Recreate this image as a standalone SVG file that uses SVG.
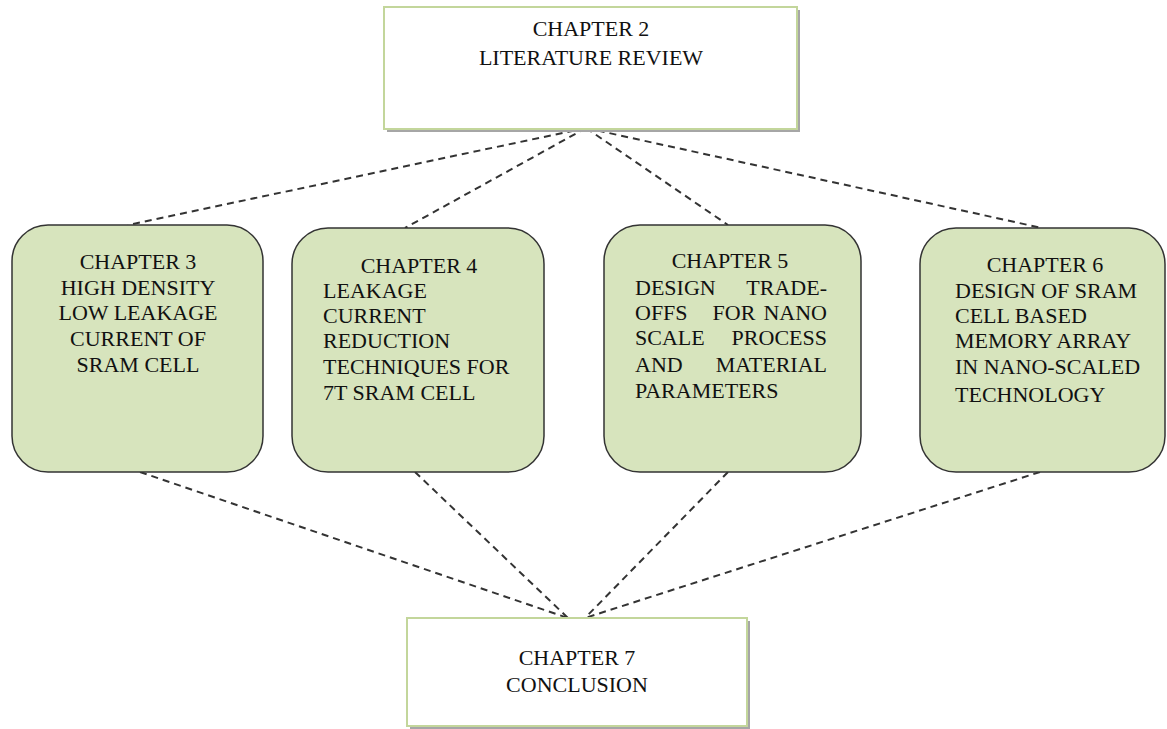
<svg xmlns="http://www.w3.org/2000/svg" width="1167" height="729" viewBox="0 0 1167 729">
<style>
.t{font-family:"Liberation Serif","Times New Roman",serif;font-size:22px;fill:#111}
.c{text-anchor:middle}
.e{text-anchor:end}
.rect{fill:#fff;stroke:#c3d69b;stroke-width:2}
.sh{fill:#a6a6a6}
.rr{fill:#d7e4bd;stroke:#333;stroke-width:1.5}
.con{fill:none;stroke:#333;stroke-width:2;stroke-dasharray:7 5}
</style>
<rect width="1167" height="729" fill="#fff"/>
<g id="connectors">
<line class="con" x1="586" y1="128" x2="128" y2="225"/>
<line class="con" x1="586" y1="128" x2="405" y2="228"/>
<line class="con" x1="586" y1="128" x2="728" y2="225"/>
<line class="con" x1="586" y1="128" x2="1042" y2="228"/>
<line class="con" x1="140" y1="472" x2="568" y2="618"/>
<line class="con" x1="415" y1="472" x2="568" y2="618"/>
<line class="con" x1="728" y1="472" x2="585" y2="618"/>
<line class="con" x1="1040" y1="472" x2="585" y2="618"/>
</g>
<g id="ch2">
<rect class="sh" x="387" y="10" width="413" height="122"/>
<rect class="rect" x="384" y="7" width="413" height="122"/>
<text class="t c" x="591" y="36">CHAPTER 2</text>
<text class="t c" x="591" y="65">LITERATURE REVIEW</text>
</g>
<g id="ch3">
<rect class="rr" x="12" y="225" width="251" height="247" rx="36"/>
<text class="t c" x="138" y="269">CHAPTER 3</text>
<text class="t c" x="138" y="295">HIGH DENSITY</text>
<text class="t c" x="138" y="320">LOW LEAKAGE</text>
<text class="t c" x="138" y="346">CURRENT OF</text>
<text class="t c" x="138" y="372">SRAM CELL</text>
</g>
<g id="ch4">
<rect class="rr" x="292" y="228" width="252" height="244" rx="36"/>
<text class="t c" x="419" y="273">CHAPTER 4</text>
<text class="t" x="323" y="298">LEAKAGE</text>
<text class="t" x="323" y="323">CURRENT</text>
<text class="t" x="323" y="348">REDUCTION</text>
<text class="t" x="323" y="374">TECHNIQUES FOR</text>
<text class="t" x="323" y="400">7T SRAM CELL</text>
</g>
<g id="ch5">
<rect class="rr" x="604" y="225" width="257" height="247" rx="36"/>
<text class="t c" x="730" y="268">CHAPTER 5</text>
<text class="t" x="635" y="295">DESIGN</text><text class="t e" x="827" y="295">TRADE-</text>
<text class="t" x="635" y="320">OFFS</text><text class="t c" x="734" y="320">FOR</text><text class="t e" x="827" y="320">NANO</text>
<text class="t" x="635" y="345">SCALE</text><text class="t e" x="827" y="345">PROCESS</text>
<text class="t" x="635" y="372">AND</text><text class="t e" x="827" y="372">MATERIAL</text>
<text class="t" x="635" y="398">PARAMETERS</text>
</g>
<g id="ch6">
<rect class="rr" x="920" y="228" width="245" height="244" rx="36"/>
<text class="t c" x="1045" y="272">CHAPTER 6</text>
<text class="t" x="955" y="298">DESIGN OF SRAM</text>
<text class="t" x="955" y="323">CELL BASED</text>
<text class="t" x="955" y="348">MEMORY ARRAY</text>
<text class="t" x="955" y="374">IN NANO-SCALED</text>
<text class="t" x="955" y="402">TECHNOLOGY</text>
</g>
<g id="ch7">
<rect class="sh" x="410" y="621" width="340" height="108"/>
<rect class="rect" x="407" y="618" width="340" height="108"/>
<text class="t c" x="577" y="665">CHAPTER 7</text>
<text class="t c" x="577" y="692">CONCLUSION</text>
</g>
</svg>
